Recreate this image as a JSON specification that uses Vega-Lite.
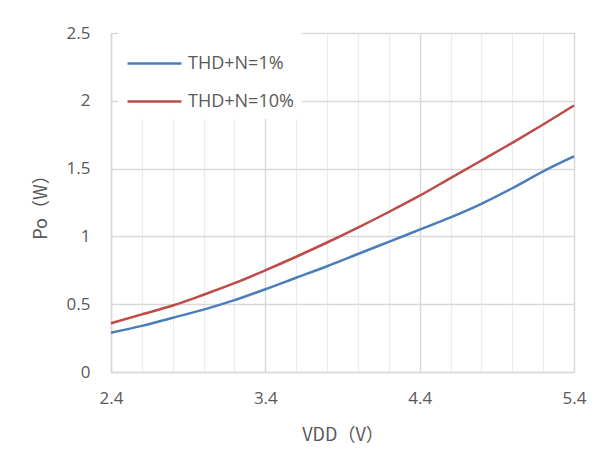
{
  "$schema": "https://vega.github.io/schema/vega-lite/v6.json",
  "autosize": "none",
  "width": 463,
  "height": 339,
  "padding": {"left": 111, "top": 33, "right": 26, "bottom": 89},
  "background": "white",
  "config": {"view": {"stroke": null}},
  "data": {"values": [
    {"vdd": 2.4, "po": 0.29, "s": "THD+N=1%"},
    {"vdd": 2.6, "po": 0.34, "s": "THD+N=1%"},
    {"vdd": 2.8, "po": 0.40, "s": "THD+N=1%"},
    {"vdd": 3.0, "po": 0.46, "s": "THD+N=1%"},
    {"vdd": 3.2, "po": 0.53, "s": "THD+N=1%"},
    {"vdd": 3.4, "po": 0.61, "s": "THD+N=1%"},
    {"vdd": 3.6, "po": 0.695, "s": "THD+N=1%"},
    {"vdd": 3.8, "po": 0.78, "s": "THD+N=1%"},
    {"vdd": 4.0, "po": 0.87, "s": "THD+N=1%"},
    {"vdd": 4.2, "po": 0.96, "s": "THD+N=1%"},
    {"vdd": 4.4, "po": 1.05, "s": "THD+N=1%"},
    {"vdd": 4.6, "po": 1.14, "s": "THD+N=1%"},
    {"vdd": 4.8, "po": 1.24, "s": "THD+N=1%"},
    {"vdd": 5.0, "po": 1.355, "s": "THD+N=1%"},
    {"vdd": 5.2, "po": 1.48, "s": "THD+N=1%"},
    {"vdd": 5.4, "po": 1.59, "s": "THD+N=1%"},
    {"vdd": 2.4, "po": 0.36, "s": "THD+N=10%"},
    {"vdd": 2.6, "po": 0.425, "s": "THD+N=10%"},
    {"vdd": 2.8, "po": 0.49, "s": "THD+N=10%"},
    {"vdd": 3.0, "po": 0.57, "s": "THD+N=10%"},
    {"vdd": 3.2, "po": 0.655, "s": "THD+N=10%"},
    {"vdd": 3.4, "po": 0.75, "s": "THD+N=10%"},
    {"vdd": 3.6, "po": 0.85, "s": "THD+N=10%"},
    {"vdd": 3.8, "po": 0.955, "s": "THD+N=10%"},
    {"vdd": 4.0, "po": 1.065, "s": "THD+N=10%"},
    {"vdd": 4.2, "po": 1.18, "s": "THD+N=10%"},
    {"vdd": 4.4, "po": 1.30, "s": "THD+N=10%"},
    {"vdd": 4.6, "po": 1.43, "s": "THD+N=10%"},
    {"vdd": 4.8, "po": 1.56, "s": "THD+N=10%"},
    {"vdd": 5.0, "po": 1.69, "s": "THD+N=10%"},
    {"vdd": 5.2, "po": 1.825, "s": "THD+N=10%"},
    {"vdd": 5.4, "po": 1.965, "s": "THD+N=10%"}
  ]},
  "mark": {"type": "line", "strokeWidth": 2.5, "interpolate": "monotone"},
  "encoding": {
    "x": {
      "field": "vdd", "type": "quantitative",
      "scale": {"domain": [2.4, 5.4], "nice": false, "zero": false},
      "axis": {
        "title": "VDD（V）",
        "titleFont": "Noto Sans CJK SC", "titleFontSize": 18, "titleFontWeight": "normal", "titleColor": "#595959",
        "titlePadding": 20,
        "values": [2.4, 2.6, 2.8, 3.0, 3.2, 3.4, 3.6, 3.8, 4.0, 4.2, 4.4, 4.6, 4.8, 5.0, 5.2, 5.4],
        "format": ".1f",
        "labelExpr": "abs(datum.value - round(datum.value - 0.4) - 0.4) < 0.01 ? datum.label : ''",
        "labelFont": "Open Sans", "labelFontSize": 17, "labelColor": "#595959",
        "labelPadding": 18, "labelFlush": false,
        "ticks": false,
        "domainColor": "#d9d9d9", "domainWidth": 1.5,
        "grid": true,
        "gridColor": {"condition": {"test": "abs(datum.value - round(datum.value - 0.4) - 0.4) < 0.01", "value": "#d9d9d9"}, "value": "#ececec"},
        "gridWidth": {"condition": {"test": "abs(datum.value - round(datum.value - 0.4) - 0.4) < 0.01", "value": 1.5}, "value": 1.2}
      }
    },
    "y": {
      "field": "po", "type": "quantitative",
      "scale": {"domain": [0, 2.5], "nice": false},
      "axis": {
        "title": "Po（W）",
        "titleFont": "Noto Sans CJK SC", "titleFontSize": 18, "titleFontWeight": "normal", "titleColor": "#595959",
        "titlePadding": 16,
        "values": [0, 0.5, 1, 1.5, 2, 2.5],
        "format": ".1~f",
        "labelFont": "Open Sans", "labelFontSize": 17, "labelColor": "#595959",
        "labelPadding": 21,
        "ticks": false,
        "domainColor": "#d9d9d9", "domainWidth": 1.5,
        "grid": true, "gridColor": "#d9d9d9", "gridWidth": 1.5
      }
    },
    "color": {
      "field": "s", "type": "nominal",
      "scale": {"domain": ["THD+N=1%", "THD+N=10%"], "range": ["#4a7ebb", "#be4b48"]},
      "legend": {
        "title": null,
        "orient": "none", "legendX": 7, "legendY": -6,
        "fillColor": "white", "padding": 8,
        "symbolType": "stroke", "symbolSize": 2916, "symbolStrokeWidth": 2.5,
        "rowPadding": -2,
        "labelFont": "Open Sans", "labelFontSize": 18, "labelColor": "#595959", "labelOffset": 5
      }
    }
  }
}
